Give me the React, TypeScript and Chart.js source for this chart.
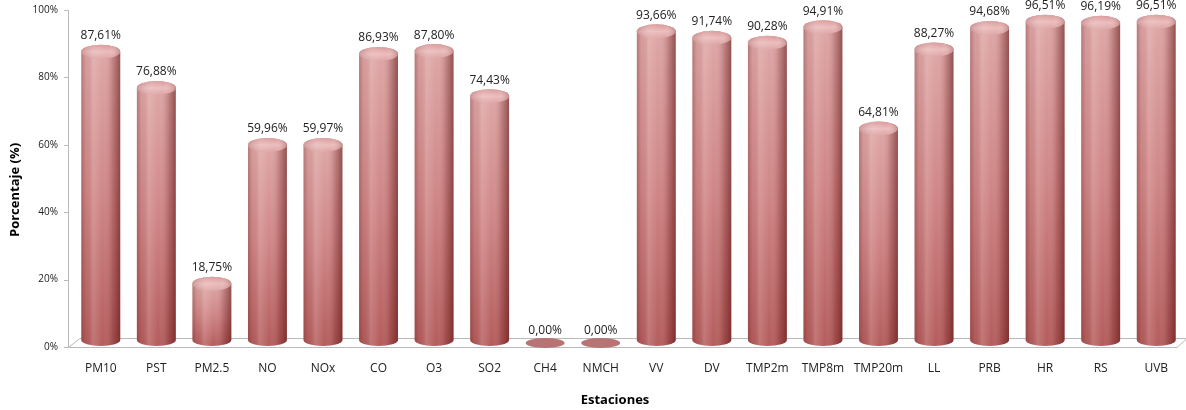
import React, { useEffect, useRef } from "react";
import { Chart, registerables } from "chart.js";

Chart.register(...registerables);

const categories = ["PM10", "PST", "PM2.5", "NO", "NOx", "CO", "O3", "SO2", "CH4", "NMCH", "VV", "DV", "TMP2m", "TMP8m", "TMP20m", "LL", "PRB", "HR", "RS", "UVB"];
const values = [87.61, 76.88, 18.75, 59.96, 59.97, 86.93, 87.8, 74.43, 0, 0, 93.66, 91.74, 90.28, 94.91, 64.81, 88.27, 94.68, 96.51, 96.19, 96.51];
const yTicks = [0, 20, 40, 60, 80, 100];
const xTitle = "Estaciones";
const yTitle = "Porcentaje (%)";

const FONT = "'Open Sans', 'Liberation Sans', sans-serif";

function fmt(v: number) {
  return v.toFixed(2).replace(".", ",") + "%";
}

function drawCylinder(ctx: CanvasRenderingContext2D, x: number, top: number, bottom: number, w: number) {
  const rx = w / 2;
  const ry = 7;
  const left = x - rx;
  const right = x + rx;
  ctx.save();
  ctx.beginPath();
  ctx.moveTo(left, top);
  ctx.lineTo(left, bottom);
  ctx.ellipse(x, bottom, rx, 6, 0, Math.PI, 0, true);
  ctx.lineTo(right, top);
  ctx.ellipse(x, top, rx, ry, 0, 0, Math.PI, true);
  ctx.closePath();
  const vg = ctx.createLinearGradient(0, top, 0, bottom + 6);
  vg.addColorStop(0, "#dea6a6");
  vg.addColorStop(0.5, "#cf8585");
  vg.addColorStop(1, "#b45c5c");
  ctx.fillStyle = vg;
  ctx.fill();
  const hg = ctx.createLinearGradient(left, 0, right, 0);
  hg.addColorStop(0, "rgba(90,20,20,0.30)");
  hg.addColorStop(0.12, "rgba(90,20,20,0.05)");
  hg.addColorStop(0.3, "rgba(255,235,235,0.18)");
  hg.addColorStop(0.55, "rgba(255,255,255,0)");
  hg.addColorStop(0.8, "rgba(90,10,10,0.20)");
  hg.addColorStop(1, "rgba(70,0,0,0.50)");
  ctx.fillStyle = hg;
  ctx.fill();
  // top cap
  ctx.beginPath();
  ctx.ellipse(x, top, rx, ry, 0, 0, Math.PI * 2);
  const tg = ctx.createLinearGradient(0, top - ry, 0, top + ry);
  tg.addColorStop(0, "#d99a9a");
  tg.addColorStop(0.5, "#ecbdbd");
  tg.addColorStop(1, "#dca4a4");
  ctx.fillStyle = tg;
  ctx.fill();
  const tg2 = ctx.createLinearGradient(left, 0, right, 0);
  tg2.addColorStop(0, "rgba(120,40,40,0.25)");
  tg2.addColorStop(0.35, "rgba(255,255,255,0.1)");
  tg2.addColorStop(0.7, "rgba(255,255,255,0)");
  tg2.addColorStop(1, "rgba(110,30,30,0.3)");
  ctx.fillStyle = tg2;
  ctx.fill();
  ctx.restore();
}

const cylinderPlugin = {
  id: "cylinders",
  beforeDatasetsDraw(chart: any) {
    const ctx = chart.ctx;
    const y = chart.scales.y;
    const y0 = y.getPixelForValue(0);
    const yTop = y.getPixelForValue(100);
    ctx.save();
    ctx.strokeStyle = "#b9b9b9";
    ctx.lineWidth = 1;
    ctx.beginPath();
    ctx.moveTo(68.5, yTop);
    ctx.lineTo(68.5, y0);
    ctx.stroke();
    yTicks.forEach((t) => {
      const py = Math.round(y.getPixelForValue(t)) + 0.5;
      ctx.beginPath();
      ctx.moveTo(64, py);
      ctx.lineTo(68.5, py);
      ctx.stroke();
    });
    const fy = Math.round(y0) + 0.5;
    ctx.beginPath();
    ctx.moveTo(68.5, fy);
    ctx.lineTo(1177, fy);
    ctx.lineTo(1187, fy - 9);
    ctx.moveTo(68.5, fy);
    ctx.lineTo(80, fy - 9);
    ctx.lineTo(1187, fy - 9);
    ctx.stroke();
    ctx.restore();
  },
  beforeDatasetDraw(chart: any, args: any) {
    const ctx = chart.ctx;
    const meta = args.meta;
    meta.data.forEach((el: any, i: number) => {
      const v = values[i];
      const w = el.width;
      const bottom = el.base - 7;
      if (v <= 0) {
        ctx.save();
        ctx.beginPath();
        ctx.ellipse(el.x, el.base - 4, w / 2, 5, 0, 0, Math.PI * 2);
        ctx.fillStyle = "#b87474";
        ctx.fill();
        ctx.restore();
      } else {
        drawCylinder(ctx, el.x, el.y, bottom, w);
      }
    });
    return false;
  },
  afterDatasetsDraw(chart: any) {
    const ctx = chart.ctx;
    const meta = chart.getDatasetMeta(0);
    ctx.save();
    ctx.font = `12px ${FONT}`;
    ctx.fillStyle = "#222";
    ctx.textAlign = "center";
    ctx.textBaseline = "middle";
    meta.data.forEach((el: any, i: number) => {
      ctx.fillText(fmt(values[i]), el.x, el.y - 16);
    });
    ctx.font = `bold 13px ${FONT}`;
    ctx.fillStyle = "#000";
    ctx.fillText(xTitle, 615, 400);
    ctx.translate(15, 190);
    ctx.rotate(-Math.PI / 2);
    ctx.fillText(yTitle, 0, 0);
    ctx.restore();
  },
};

export default function App() {
  const ref = useRef<HTMLCanvasElement | null>(null);
  useEffect(() => {
    document.body.style.margin = "0";
    const canvas = ref.current!;
    const chart = new Chart(canvas, {
      type: "bar",
      data: {
        labels: categories,
        datasets: [
          {
            data: values,
            backgroundColor: "#c97c7c",
            barPercentage: 0.7,
            categoryPercentage: 1,
          },
        ],
      },
      options: {
        animation: false,
        responsive: false,
        maintainAspectRatio: false,
        layout: { padding: { top: 0, right: 2, left: 0, bottom: 0 } },
        plugins: { legend: { display: false }, tooltip: { enabled: false } },
        scales: {
          x: {
            grid: { display: false, drawTicks: false },
            border: { display: false },
            ticks: { padding: 14, color: "#222", font: { size: 12, family: FONT }, maxRotation: 0, autoSkip: false },
            afterFit: (s: any) => {
              s.height = 63;
            },
          },
          y: {
            min: 0,
            max: 100,
            grid: { display: false, drawTicks: false },
            border: { display: false },
            afterBuildTicks: (s: any) => {
              s.ticks = yTicks.map((v) => ({ value: v }));
            },
            ticks: {
              padding: 15,
              color: "#222",
              font: { size: 10, family: FONT },
              callback: (v: any) => v + "%",
            },
            afterFit: (s: any) => {
              s.width = 73;
              s.paddingTop = 10;
            },
          },
        },
      },
      plugins: [cylinderPlugin],
    });
    return () => chart.destroy();
  }, []);
  return <canvas ref={ref} width={1186} height={410} style={{ display: "block" }} />;
}
